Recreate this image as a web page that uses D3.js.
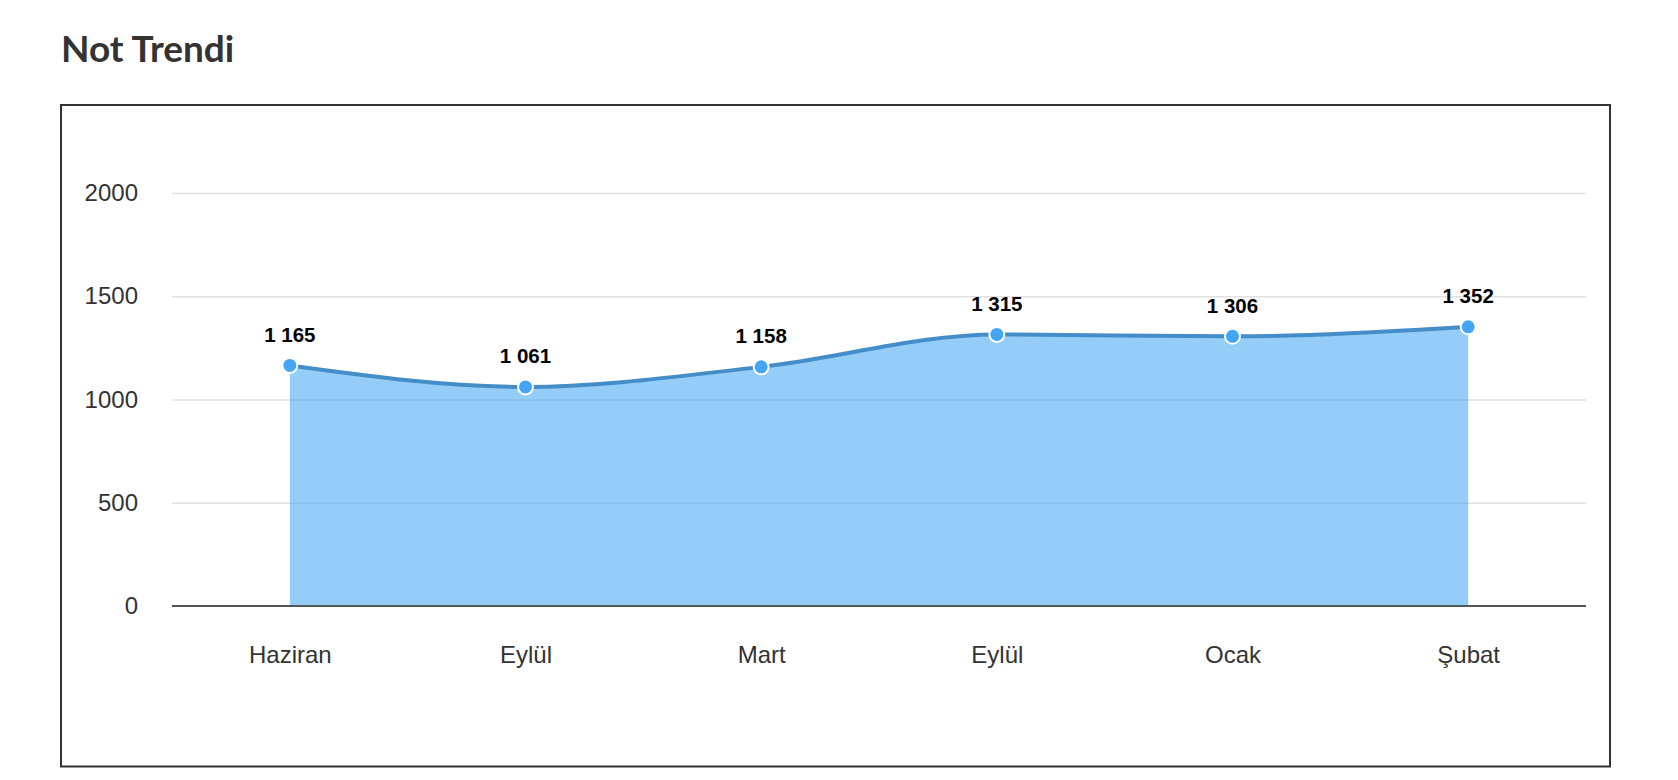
<!DOCTYPE html>
<html>
<head>
<meta charset="utf-8">
<script src="https://cdn.jsdelivr.net/npm/d3@7"></script>
<style>
  body { margin: 0; background: #fff; }
  svg { display: block; }
</style>
</head>
<body>
<svg id="chart" width="1678" height="780"></svg>
<script>
// data
let months = ["Haziran", "Eylül", "Mart", "Eylül", "Ocak", "Şubat"];
let values = [1165, 1061, 1158, 1315, 1306, 1352];
let yTicks = [0, 500, 1000, 1500, 2000];

let svg = d3.select("#chart");
let fmt = d3.formatLocale({decimal: ",", thousands: " ", grouping: [3], currency: ["", ""]}).format(",d");

let plotLeft = 172, plotRight = 1586, plotTop = 193, plotBottom = 606;

// title
svg.append("text")
    .attr("x", 61)
    .attr("y", 61.7)
    .attr("font-family", "Lato, 'Open Sans', sans-serif")
    .attr("font-weight", 700)
    .attr("font-size", 37)
    .attr("fill", "#333")
    .text("Not Trendi");

// frame
svg.append("rect")
    .attr("x", 61)
    .attr("y", 105)
    .attr("width", 1549)
    .attr("height", 661.5)
    .attr("fill", "none")
    .attr("stroke", "#333")
    .attr("stroke-width", 2);

let x = d3.scalePoint()
    .domain(d3.range(months.length))
    .range([plotLeft, plotRight])
    .padding(0.5);

let y = d3.scaleLinear()
    .domain([0, 2000])
    .range([plotBottom, plotTop]);

// grid
let yAxis = svg.append("g")
    .attr("transform", `translate(${plotLeft},0)`)
    .call(d3.axisLeft(y).tickValues(yTicks).tickSize(-(plotRight - plotLeft)).tickPadding(34).tickFormat(d3.format("d")));
yAxis.select(".domain").remove();
yAxis.selectAll(".tick line")
    .attr("stroke", "#e0e0e0")
    .attr("stroke-width", 1.5);
yAxis.selectAll(".tick text")
    .attr("font-family", "'Liberation Sans', Arial, sans-serif")
    .attr("font-size", 24)
    .attr("fill", "#333");
yAxis.selectAll(".tick").filter(d => d === 0).select("line").remove();

// area + line
let data = values.map((v, i) => ({i: i, v: v}));

svg.append("path")
    .datum(data)
    .attr("fill", "#42a5f5")
    .attr("fill-opacity", 0.56)
    .attr("d", d3.area().x(d => x(d.i)).y0(y(0)).y1(d => y(d.v)).curve(d3.curveMonotoneX));

// zero axis line
svg.append("line")
    .attr("x1", plotLeft)
    .attr("x2", plotRight)
    .attr("y1", y(0))
    .attr("y2", y(0))
    .attr("stroke", "#555")
    .attr("stroke-width", 2);

svg.append("path")
    .datum(data)
    .attr("fill", "none")
    .attr("stroke", "#458dc8")
    .attr("stroke-width", 4)
    .attr("d", d3.line().x(d => x(d.i)).y(d => y(d.v)).curve(d3.curveMonotoneX));

// x axis labels
let xAxis = svg.append("g")
    .attr("transform", `translate(0,${plotBottom})`)
    .call(d3.axisBottom(x).tickSize(0).tickPadding(0).tickFormat(i => months[i]));
xAxis.select(".domain").remove();
xAxis.selectAll(".tick text")
    .attr("dy", null)
    .attr("y", 57)
    .attr("font-family", "'Liberation Sans', Arial, sans-serif")
    .attr("font-size", 24)
    .attr("fill", "#333");

// points
svg.append("g").selectAll("circle")
    .data(data)
    .join("circle")
    .attr("cx", d => x(d.i))
    .attr("cy", d => y(d.v))
    .attr("r", 7.5)
    .attr("fill", "#42a5f5")
    .attr("stroke", "#fff")
    .attr("stroke-width", 2);

// value labels
svg.append("g").selectAll("text")
    .data(data)
    .join("text")
    .attr("x", d => x(d.i))
    .attr("y", d => y(d.v) - 23.5)
    .attr("text-anchor", "middle")
    .attr("font-family", "'Liberation Sans', Arial, sans-serif")
    .attr("font-weight", 700)
    .attr("font-size", 20.5)
    .attr("fill", "#000")
    .text(d => fmt(d.v));
</script>
</body>
</html>
